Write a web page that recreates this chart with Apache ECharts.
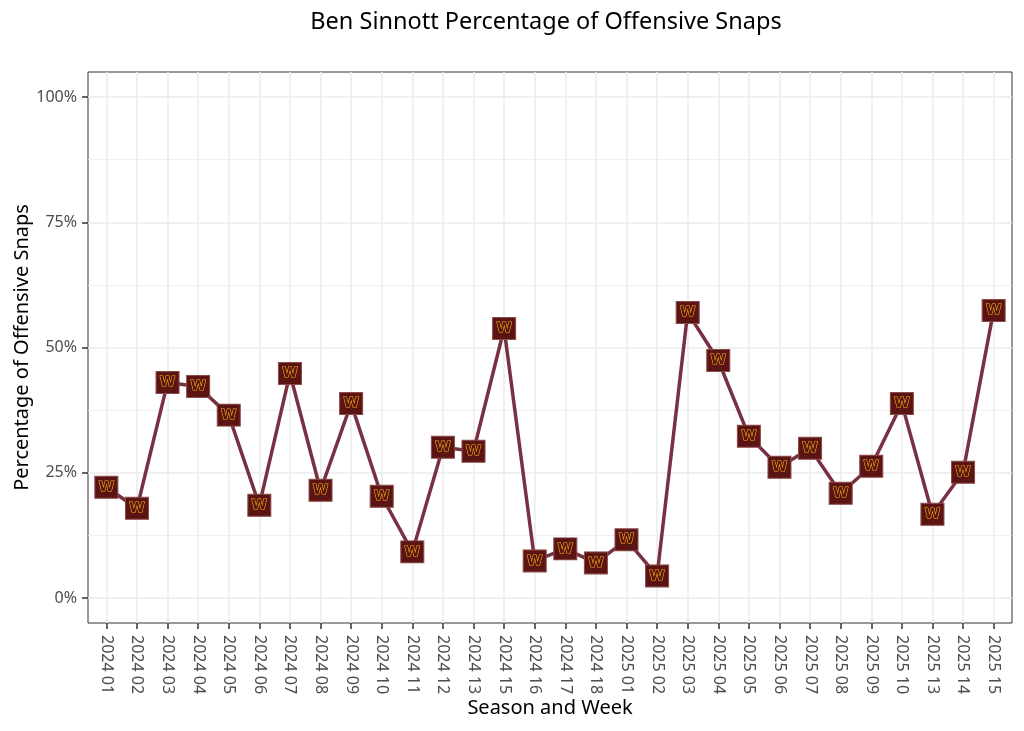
<!DOCTYPE html>
<html style="height: 100%">
  <head>
    <meta charset="utf-8" />
    <title>Ben Sinnott Snaps</title>
    <script src="https://cdn.jsdelivr.net/npm/echarts@6/dist/echarts.min.js"></script>
  </head>
  <body style="height: 100%; margin: 0; background: #ffffff">
    <div id="container" style="width: 1024px; height: 731px"></div>
    <script type="text/javascript">
      // season + week labels (weeks with no snaps are left out)
      let weeks = [
        "2024 01", "2024 02", "2024 03", "2024 04", "2024 05", "2024 06",
        "2024 07", "2024 08", "2024 09", "2024 10", "2024 11", "2024 12",
        "2024 13", "2024 15", "2024 16", "2024 17", "2024 18", "2025 01",
        "2025 02", "2025 03", "2025 04", "2025 05", "2025 06", "2025 07",
        "2025 08", "2025 09", "2025 10", "2025 13", "2025 14", "2025 15"
      ];
      // share of offensive snaps, in percent
      let snapPct = [
        22.1, 17.9, 43.0, 42.2, 36.5, 18.5, 44.8, 21.5, 38.8, 20.3,
        9.2, 30.1, 29.3, 53.8, 7.4, 9.8, 7.0, 11.6, 4.4, 57.0,
        47.4, 32.3, 26.1, 29.9, 20.9, 26.3, 38.8, 16.7, 25.1, 57.4
      ];
      let yMajor = [0, 25, 50, 75, 100];
      let yMinor = [12.5, 37.5, 62.5, 87.5];

      // discrete axis done as a value axis, positions 1..n
      let positions = weeks.map((w, i) => i + 1);
      let points = snapPct.map((v, i) => [i + 1, v]);

      let font = "Noto Sans";
      let dom = document.getElementById("container");
      let chart = echarts.init(dom, null, { renderer: "canvas" });

      chart.setOption({
        backgroundColor: "#ffffff",
        animation: false,
        title: {
          text: "Ben Sinnott Percentage of Offensive Snaps",
          left: 541,
          textAlign: "center",
          top: 5,
          textStyle: { fontFamily: font, fontSize: 23.5, fontWeight: "normal", color: "#000000" }
        },
        grid: {
          left: 88, right: 12, top: 72, bottom: 108,
          outerBoundsMode: "none",
          show: true, borderColor: "#333333", borderWidth: 1
        },
        xAxis: {
          type: "value",
          min: 0.4,
          max: weeks.length + 0.6,
          name: "Season and Week",
          nameLocation: "middle",
          nameGap: 75,
          nameMoveOverlap: false,
          nameTextStyle: { fontFamily: font, fontSize: 20, color: "#000000" },
          axisLine: { show: false, onZero: false },
          axisTick: { show: true, length: 6, customValues: positions, lineStyle: { color: "#333333", width: 1.5 } },
          axisLabel: {
            customValues: positions,
            rotate: -90,
            margin: 12,
            fontFamily: font,
            fontSize: 16,
            color: "#4d4d4d",
            formatter: (v) => weeks[Math.round(v) - 1] || ""
          },
          splitLine: { show: true, lineStyle: { color: "#ebebeb", width: 1.5 } }
        },
        yAxis: [
          {
            type: "value",
            min: -5,
            max: 105,
            name: "Percentage of Offensive Snaps",
            nameLocation: "middle",
            nameGap: 56,
            nameMoveOverlap: false,
            nameTextStyle: { fontFamily: font, fontSize: 20, color: "#000000" },
            axisLine: { show: false, onZero: false },
            axisTick: { show: true, length: 6, customValues: yMajor, lineStyle: { color: "#333333", width: 1.5 } },
            axisLabel: {
              customValues: yMajor,
              margin: 11,
              fontFamily: font,
              fontSize: 16,
              color: "#4d4d4d",
              formatter: (v) => v + "%"
            },
            splitLine: { show: true, lineStyle: { color: "#ebebeb", width: 1.5 } }
          },
          {
            // minor grid only
            type: "value",
            min: -5,
            max: 105,
            position: "left",
            axisLine: { show: false, onZero: false },
            axisTick: { show: false, customValues: yMinor },
            axisLabel: { show: false, customValues: yMinor },
            splitLine: { show: true, lineStyle: { color: "#ebebeb", width: 0.8 } }
          }
        ],
        series: [
          {
            type: "line",
            data: points,
            yAxisIndex: 0,
            lineStyle: { color: "#773141", width: 3.5 },
            symbol: "rect",
            symbolSize: [23, 22],
            itemStyle: { color: "#5a1414", borderColor: "#8c4a4a", borderWidth: 1 },
            label: {
              show: true,
              position: "inside",
              formatter: "W",
              fontFamily: "DejaVu Sans",
              fontWeight: "bold",
              fontSize: 14,
              color: "#5a1414",
              textBorderColor: "#ffb612",
              textBorderWidth: 1.1
            },
            z: 3
          }
        ]
      });
    </script>
  </body>
</html>
